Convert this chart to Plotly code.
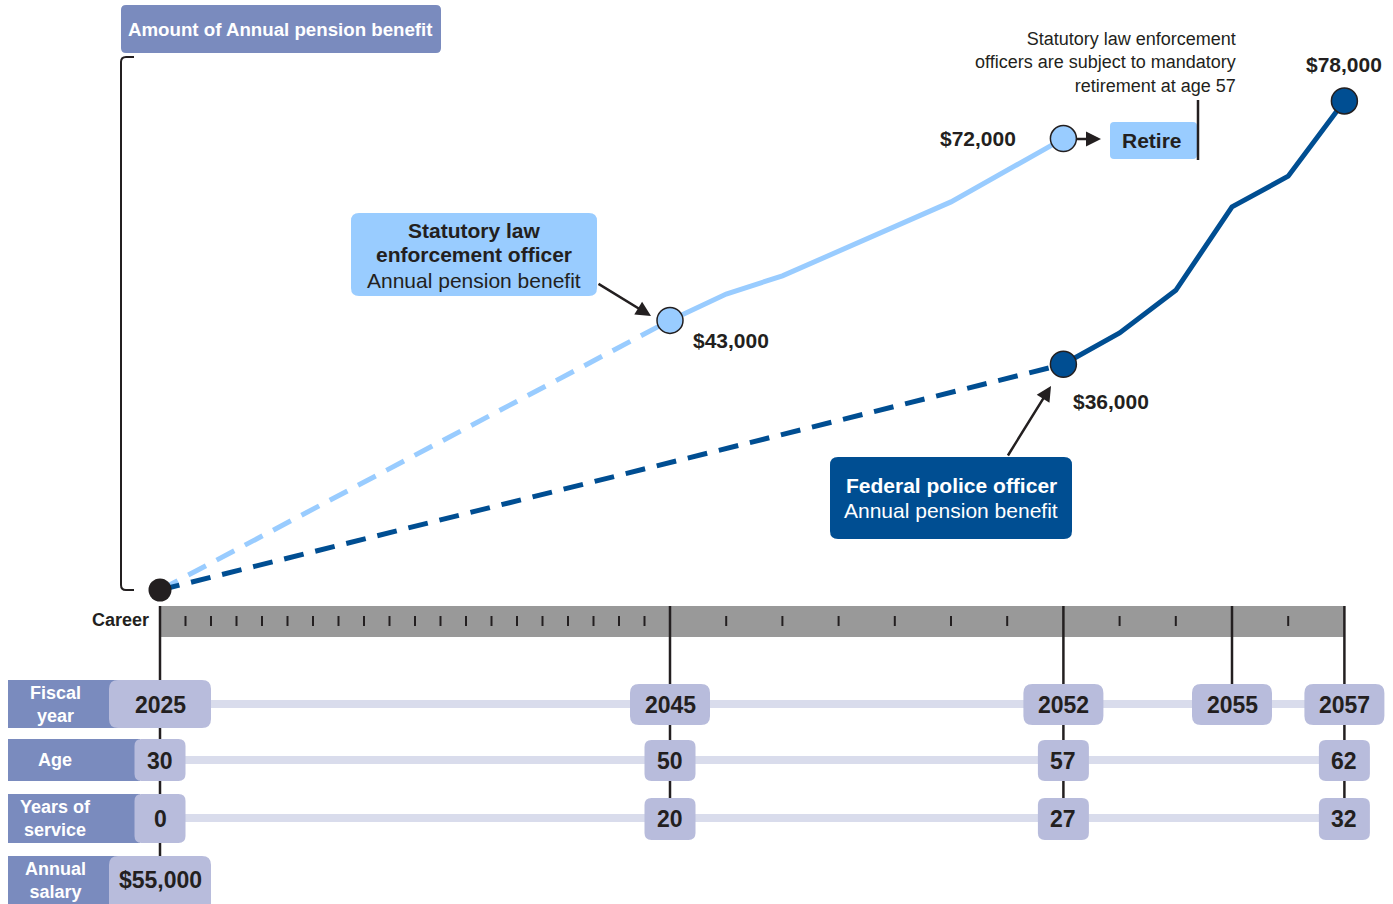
import plotly.graph_objects as go

# ---------------------------------------------------------------- data
start_year = 2025
start_benefit = 0

# Statutory law enforcement officer: annual pension benefit by fiscal year
sle_years = [2045, 2046, 2047, 2050, 2052]
sle_benefit = [43000, 47200, 50100, 61900, 72000]

# Federal police officer: annual pension benefit by fiscal year
fpo_years = [2052, 2053, 2054, 2055, 2056, 2057]
fpo_benefit = [36000, 41000, 47800, 61100, 66000, 78000]

# career timeline table
career_years = list(range(2025, 2058))
fiscal_years = [2025, 2045, 2052, 2055, 2057]
age_years = [2025, 2045, 2052, 2057]
ages = [30, 50, 57, 62]
service_years = [2025, 2045, 2052, 2057]
service = [0, 20, 27, 32]
salary_year = 2025
salary = 55000

row_labels = ["Fiscal<br>year", "Age", "Years of<br>service", "Annual<br>salary"]

# ---------------------------------------------------------------- layout constants
W, H = 1393, 904
FONT = "Liberation Sans, Arial, sans-serif"
INK = "#231f20"
LIGHT = "#99ccff"
DARK = "#004e92"
PERI = "#7a8bbe"
PILL = "#b8bcdc"
STRIPE = "#d9dcec"
BAR = "#999999"

X0_PX = 160.0          # left end of the career axis
EARLY_PX = 25.5        # pixels per year up to 2045
LATE_FACTOR = 56.2 / 25.5   # years after 2045 are drawn wider
BASE_PX = 590.0        # $0 baseline
PX_PER_DOLLAR = 6.27 / 1000.0


def pos(year):
    """Piecewise timeline scale: compressed first 20 years, expanded later."""
    if year <= 2045:
        return year - 2025
    return 20 + (year - 2045) * LATE_FACTOR


def px(x):
    return x / W


def py(y):
    return 1 - y / H


def rounded(l, r, t, b, rx, ry):
    """Rounded rectangle path; t > b (paper-style vertical units)."""
    return (f"M {l+rx},{t} L {r-rx},{t} Q {r},{t} {r},{t-ry} "
            f"L {r},{b+ry} Q {r},{b} {r-rx},{b} L {l+rx},{b} "
            f"Q {l},{b} {l},{b+ry} L {l},{t-ry} Q {l},{t} {l+rx},{t} Z")


def paper_box(x0, y0, x1, y1, radius, color):
    return dict(type="path", xref="paper", yref="paper", layer="below",
                path=rounded(px(x0), px(x1), py(y0), py(y1), radius / W, radius / H),
                fillcolor=color, line=dict(width=0))


def pill(year, half_w_px, y0, y1, color=PILL, radius=9):
    c = pos(year)
    hw = half_w_px / EARLY_PX
    return dict(type="path", xref="x", yref="paper", layer="below",
                path=rounded(c - hw, c + hw, py(y0), py(y1), radius / EARLY_PX, radius / H),
                fillcolor=color, line=dict(width=0))


shapes = []
annotations = []

# ---------------------------------------------------------------- career bar and ticks
shapes.append(dict(type="rect", xref="x", yref="paper", layer="below",
                   x0=pos(2025), x1=pos(2057), y0=py(637), y1=py(606),
                   fillcolor=BAR, line=dict(width=0)))
for yr in career_years:
    if yr in fiscal_years:
        continue
    shapes.append(dict(type="line", xref="x", yref="paper", layer="below",
                       x0=pos(yr), x1=pos(yr), y0=py(616), y1=py(626),
                       line=dict(color=INK, width=2)))

# table stripes
for yc in [704, 760, 818]:
    shapes.append(dict(type="line", xref="x", yref="paper", layer="below",
                       x0=pos(2025), x1=pos(2057), y0=py(yc), y1=py(yc),
                       line=dict(color=STRIPE, width=8)))

# long vertical year lines
line_ends = {2025: 860, 2045: 800, 2052: 800, 2055: 690, 2057: 800}
for yr in fiscal_years:
    shapes.append(dict(type="line", xref="x", yref="paper", layer="below",
                       x0=pos(yr), x1=pos(yr), y0=py(606), y1=py(line_ends[yr]),
                       line=dict(color=INK, width=2.5)))

# left row-label boxes
label_boxes = [(8, 680, 125, 728), (8, 739, 140, 781), (8, 794, 140, 843), (8, 856, 125, 910)]
label_centers = [704, 760, 818, 880]
for (x0, y0, x1, y1), yc, txt in zip(label_boxes, label_centers, row_labels):
    shapes.append(dict(type="rect", xref="paper", yref="paper", layer="below",
                       x0=px(x0), x1=px(x1), y0=py(y1), y1=py(y0),
                       fillcolor=PERI, line=dict(width=0)))
    annotations.append(dict(xref="paper", yref="paper", x=px(55), y=py(yc),
                            text=f"<b>{txt}</b>", showarrow=False,
                            font=dict(family=FONT, size=18, color="white")))

# value pills
pill_font = dict(family=FONT, size=23, color=INK)
for yr in fiscal_years:
    if yr == 2025:
        shapes.append(pill(yr, 51, 680, 728))
    else:
        shapes.append(pill(yr, 40, 684, 725))
    annotations.append(dict(xref="x", yref="paper", x=pos(yr), y=py(705),
                            text=f"<b>{yr}</b>", showarrow=False, font=pill_font))
for yr, a in zip(age_years, ages):
    shapes.append(pill(yr, 25.5, 739 if yr == 2025 else 740, 781, radius=7))
    annotations.append(dict(xref="x", yref="paper", x=pos(yr), y=py(761),
                            text=f"<b>{a}</b>", showarrow=False, font=pill_font))
for yr, s in zip(service_years, service):
    if yr == 2025:
        shapes.append(pill(yr, 25.5, 794, 843, radius=7))
    else:
        shapes.append(pill(yr, 25.5, 798, 840, radius=7))
    annotations.append(dict(xref="x", yref="paper", x=pos(yr), y=py(819),
                            text=f"<b>{s}</b>", showarrow=False, font=pill_font))
shapes.append(pill(salary_year, 51, 856, 912))
annotations.append(dict(xref="x", yref="paper", x=pos(salary_year), y=py(880),
                        text=f"<b>${salary:,}</b>", showarrow=False, font=pill_font))

annotations.append(dict(xref="paper", yref="paper", x=px(151), y=py(620),
                        text="<b>Career</b>", showarrow=False, xanchor="right",
                        font=dict(family=FONT, size=18, color=INK)))

# ---------------------------------------------------------------- header and bracket
shapes.append(paper_box(121, 5, 441, 53, 5, PERI))
annotations.append(dict(xref="paper", yref="paper", x=px(280), y=py(30),
                        text="<b>Amount of Annual pension benefit</b>", showarrow=False,
                        font=dict(family=FONT, size=18.7, color="white")))
shapes.append(dict(type="path", xref="paper", yref="paper", layer="below",
                   path=(f"M {px(134)},{py(57)} L {px(126)},{py(57)} "
                         f"Q {px(121)},{py(57)} {px(121)},{py(62)} "
                         f"L {px(121)},{py(585)} Q {px(121)},{py(590)} {px(126)},{py(590)} "
                         f"L {px(134)},{py(590)}"),
                   line=dict(color=INK, width=2)))

# ---------------------------------------------------------------- callouts
callout_size = 21
shapes.append(paper_box(351, 213, 597, 296, 8, LIGHT))
for txt, yc in [("<b>Statutory law</b>", 230), ("<b>enforcement officer</b>", 255),
                ("Annual pension benefit", 280)]:
    annotations.append(dict(xref="paper", yref="paper", x=px(474), y=py(yc),
                            text=txt, showarrow=False,
                            font=dict(family=FONT, size=callout_size, color=INK)))
annotations.append(dict(xref="paper", yref="paper", x=px(651), y=py(316),
                        ax=-54, ay=-33, text="", showarrow=True,
                        arrowhead=2, arrowsize=1.2, arrowwidth=2.5, arrowcolor=INK))

shapes.append(paper_box(830, 457, 1072, 539, 8, DARK))
for txt, yc in [("<b>Federal police officer</b>", 485), ("Annual pension benefit", 511)]:
    annotations.append(dict(xref="paper", yref="paper", x=px(951), y=py(yc),
                            text=txt, showarrow=False,
                            font=dict(family=FONT, size=callout_size, color="white")))
annotations.append(dict(xref="paper", yref="paper", x=px(1051), y=py(386),
                        ax=-44, ay=71, text="", showarrow=True,
                        arrowhead=2, arrowsize=1.2, arrowwidth=2.5, arrowcolor=INK))

# retirement marker
shapes.append(paper_box(1110, 122, 1197, 159, 4, LIGHT))
shapes.append(dict(type="line", xref="paper", yref="paper", layer="above",
                   x0=px(1198), x1=px(1198), y0=py(100), y1=py(160),
                   line=dict(color=INK, width=2.5)))
annotations.append(dict(xref="paper", yref="paper", x=px(1152), y=py(141),
                        text="<b>Retire</b>", showarrow=False,
                        font=dict(family=FONT, size=21, color=INK)))
annotations.append(dict(xref="paper", yref="paper", x=px(1101), y=py(139),
                        ax=-26, ay=0, text="", showarrow=True,
                        arrowhead=2, arrowsize=1.2, arrowwidth=2.5, arrowcolor=INK))
annotations.append(dict(xref="paper", yref="paper", x=px(1238), y=py(62),
                        text=("Statutory law enforcement<br>officers are subject to mandatory"
                              "<br>retirement at age 57"),
                        showarrow=False, align="right", xanchor="right",
                        font=dict(family=FONT, size=18, color=INK)))

# ---------------------------------------------------------------- data traces
fig = go.Figure()
dash = "20px,12px"
fig.add_trace(go.Scatter(x=[pos(start_year), pos(sle_years[0])], y=[start_benefit, sle_benefit[0]],
                         mode="lines", line=dict(color=LIGHT, width=5, dash=dash), hoverinfo="skip"))
fig.add_trace(go.Scatter(x=[pos(start_year), pos(fpo_years[0])], y=[start_benefit, fpo_benefit[0]],
                         mode="lines", line=dict(color=DARK, width=5, dash=dash), hoverinfo="skip"))
fig.add_trace(go.Scatter(x=[pos(y) for y in sle_years], y=sle_benefit,
                         mode="lines", line=dict(color=LIGHT, width=5), hoverinfo="skip"))
fig.add_trace(go.Scatter(x=[pos(y) for y in fpo_years], y=fpo_benefit,
                         mode="lines", line=dict(color=DARK, width=5), hoverinfo="skip"))

# highlighted points
fig.add_trace(go.Scatter(x=[pos(start_year)], y=[start_benefit], mode="markers",
                         marker=dict(size=23, color=INK), hoverinfo="skip"))
sle_marks = [sle_years[0], sle_years[-1]]
sle_vals = [sle_benefit[0], sle_benefit[-1]]
fpo_marks = [fpo_years[0], fpo_years[-1]]
fpo_vals = [fpo_benefit[0], fpo_benefit[-1]]
fig.add_trace(go.Scatter(x=[pos(y) for y in sle_marks], y=sle_vals, mode="markers",
                         marker=dict(size=26, color=LIGHT, line=dict(color=INK, width=1.5)),
                         hoverinfo="skip"))
fig.add_trace(go.Scatter(x=[pos(y) for y in fpo_marks], y=fpo_vals, mode="markers",
                         marker=dict(size=26, color=DARK, line=dict(color=INK, width=1.5)),
                         hoverinfo="skip"))

# value labels next to the highlighted points
val_font = dict(family=FONT, size=21, color=INK)
label_offsets = [
    (sle_marks[0], sle_vals[0], 61, -20),
    (sle_marks[1], sle_vals[1], -85, 0),
    (fpo_marks[0], fpo_vals[0], 48, -37),
    (fpo_marks[1], fpo_vals[1], 0, 36),
]
for yr, v, dx, dy in label_offsets:
    annotations.append(dict(xref="x", yref="y", x=pos(yr), y=v, xshift=dx, yshift=dy,
                            text=f"<b>${v:,}</b>", showarrow=False, font=val_font))

for a in annotations:
    a.setdefault("xanchor", "center")
    a.setdefault("yanchor", "middle")

fig.update_layout(
    width=W, height=H,
    margin=dict(l=0, r=0, t=0, b=0),
    paper_bgcolor="white", plot_bgcolor="white",
    showlegend=False,
    xaxis=dict(range=[-X0_PX / EARLY_PX, (W - X0_PX) / EARLY_PX], visible=False, fixedrange=True),
    yaxis=dict(range=[-(H - BASE_PX) / PX_PER_DOLLAR, BASE_PX / PX_PER_DOLLAR],
               visible=False, fixedrange=True),
    shapes=shapes,
    annotations=annotations,
    font=dict(family=FONT),
)

fig.write_html("out.html", config={"displayModeBar": False})
